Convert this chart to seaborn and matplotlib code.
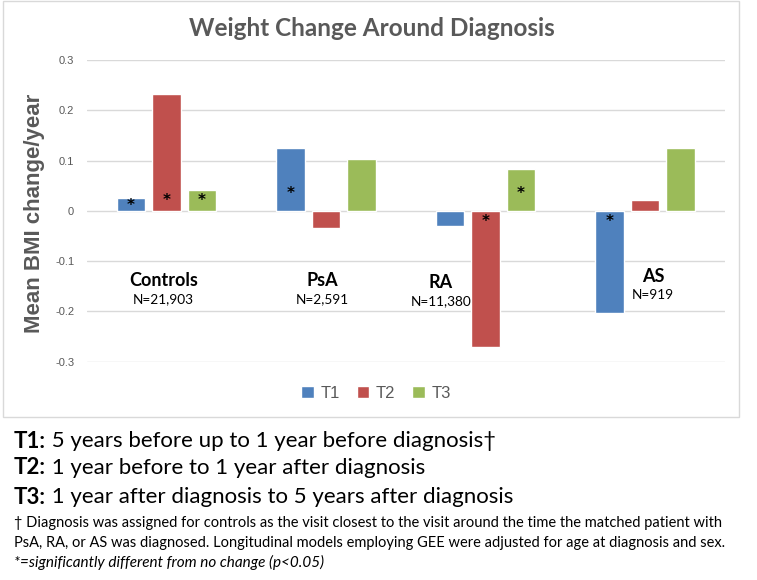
import pandas as pd
import matplotlib.pyplot as plt
import matplotlib.patches as mpatches
import seaborn as sns

# -----------------------------
# Data
# -----------------------------
groups = ['Controls', 'PsA', 'RA', 'AS']
group_n = ['N=21,903', 'N=2,591', 'N=11,380', 'N=919']
periods = ['T1', 'T2', 'T3']

t1_values = [0.025, 0.124, -0.030, -0.204]
t2_values = [0.232, -0.035, -0.270, 0.021]
t3_values = [0.041, 0.104, 0.083, 0.124]

# significance flags (True = asterisk on the bar)
t1_sig = [True, True, False, True]
t2_sig = [True, False, True, False]
t3_sig = [True, False, True, False]

# where the asterisks sit (data units)
t1_star_y = [0.010, 0.035, None, -0.022]
t2_star_y = [0.020, None, -0.022, None]
t3_star_y = [0.020, None, 0.035, None]

# group label placement (offset from group centre, height)
label_dx = [-0.02, -0.02, -0.28, 0.05]
label_y = [-0.139, -0.139, -0.143, -0.131]

colors = ['#4F81BD', '#C0504D', '#9BBB59']
gray = '#595959'

df = pd.DataFrame({
    'group': groups * 3,
    'period': [p for p in periods for _ in groups],
    'value': t1_values + t2_values + t3_values,
})

# -----------------------------
# Figure
# -----------------------------
sns.set_style('white')
plt.rcParams['font.family'] = ['Lato', 'DejaVu Sans']

fig = plt.figure(figsize=(7.57, 5.8), dpi=100)
ax = fig.add_axes([86.75 / 757, 1 - 361.7 / 580, 638 / 757, 301.7 / 580])

sns.barplot(data=df, x='group', y='value', hue='period', palette=colors,
            width=0.668, gap=0.21, ax=ax, saturation=1)

ax.set_ylim(-0.3, 0.3)
ax.set_xlim(-0.5, 3.5)
ax.set_yticks([-0.3, -0.2, -0.1, 0, 0.1, 0.2, 0.3])
ax.set_yticklabels(['-0.3', '-0.2', '-0.1', '0', '0.1', '0.2', '0.3'],
                   fontfamily='Liberation Sans', fontsize=8, color=gray)
ax.tick_params(axis='y', length=0, pad=9)
ax.set_xticks([])
ax.set_xlabel('')
ax.set_ylabel('')
ax.grid(axis='y', color='#D9D9D9', linewidth=1)
ax.set_axisbelow(True)
for s in ax.spines.values():
    s.set_visible(False)

# asterisks
stars = [t1_star_y, t2_star_y, t3_star_y]
sigs = [t1_sig, t2_sig, t3_sig]
for cont, sig, sy in zip(ax.containers, sigs, stars):
    for bar, flag, y in zip(cont, sig, sy):
        if flag:
            ax.text(bar.get_x() + bar.get_width() / 2, y, '*', ha='center',
                    va='center', fontsize=11, fontweight='bold', color='black',
                    fontfamily='DejaVu Sans')

# group names and sample sizes
for i, (name, n) in enumerate(zip(groups, group_n)):
    ax.text(i + label_dx[i], label_y[i], name, ha='center', va='center',
            fontsize=13, fontweight='bold', color='black')
    ax.text(i + label_dx[i], label_y[i] - 0.036, n, ha='center', va='center',
            fontsize=9.8, color='black')

# legend
sns.move_legend(ax, 'center', bbox_to_anchor=(376 / 757, 1 - 393 / 580),
                bbox_transform=fig.transFigure, ncol=3, frameon=False,
                title=None, fontsize=12, handlelength=0.75, handleheight=0.75,
                handletextpad=0.4, columnspacing=1.0)
for t in ax.get_legend().get_texts():
    t.set_color(gray)
    t.set_fontfamily('Liberation Sans')

# title and y label
fig.text(371.5 / 757, 1 - 28 / 580, 'Weight Change Around Diagnosis',
         ha='center', va='center', fontsize=17.5, fontweight='bold', color=gray)
fig.text(35 / 757, 1 - 213.5 / 580, 'Mean BMI change/year', rotation=90,
         ha='center', va='center', fontsize=16, fontweight='bold', color=gray,
         fontfamily='Liberation Sans')

# chart frame
fig.patches.append(mpatches.Rectangle((3 / 757, 1 - 417 / 580), 736 / 757,
                                      416 / 580, transform=fig.transFigure,
                                      fill=False, edgecolor='#D9D9D9',
                                      linewidth=1))

# -----------------------------
# Notes under the chart
# -----------------------------
renderer = fig.canvas.get_renderer()
defs = [('T1:', ' 5 years before up to 1 year before diagnosis\u2020', 441),
        ('T2:', ' 1 year before to 1 year after diagnosis', 468),
        ('T3:', ' 1 year after diagnosis to 5 years after diagnosis', 497)]
for head, rest, y in defs:
    h = fig.text(14 / 757, 1 - y / 580, head, ha='left', va='center',
                 fontsize=16, fontweight='bold', color='black')
    bb = h.get_window_extent(renderer)
    fig.text(bb.x1 / fig.bbox.width, 1 - y / 580, rest, ha='left',
             va='center', fontsize=16, color='black')

fig.text(14 / 757, 1 - 523 / 580,
         '\u2020 Diagnosis was assigned for controls as the visit closest to the '
         'visit around the time the matched patient with',
         ha='left', va='center', fontsize=10.5, color='black')
fig.text(14 / 757, 1 - 543 / 580,
         'PsA, RA, or AS was diagnosed. Longitudinal models employing GEE were '
         'adjusted for age at diagnosis and sex.',
         ha='left', va='center', fontsize=10.5, color='black')
fig.text(14 / 757, 1 - 562 / 580,
         '*=significantly different from no change (p<0.05)',
         ha='left', va='center', fontsize=11, style='italic', color='black')

plt.savefig('out.png', dpi=100)
